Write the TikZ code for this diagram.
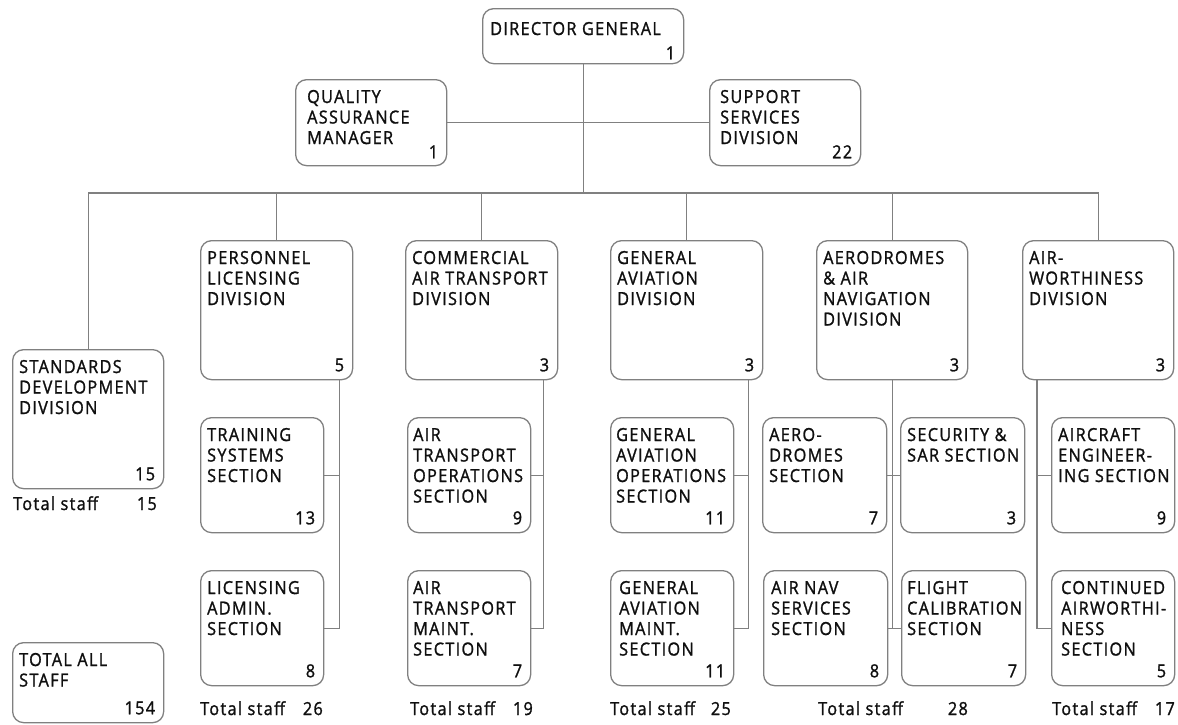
\documentclass[tikz,border=0pt]{standalone}
\usepackage{fontspec}
\setmainfont{Open Sans}[LetterSpace=7.5, FakeStretch=0.9, FakeBold=1.3]
\usetikzlibrary{calc}

\definecolor{edgegray}{RGB}{128,128,128}
\definecolor{inkgray}{RGB}{15,15,15}

\tikzset{
  orgunit/.style={draw=edgegray, line width=1.3pt, rounded corners=11pt, fill=white, inner sep=0pt},
  orgtext/.style={inner sep=0pt, text=inkgray, font=\fontsize{18pt}{20.5pt}\selectfont},
  wire/.style={draw=edgegray, line width=1.3pt},
}

% distance from the top edge to the first baseline, and from the bottom edge to the count
\def\titledrop{24}
\def\numrise{9}

% #1 left text inset, #2 name, #3 x, #4 y (top left), #5 width, #6 height, #7 title, #8 staff count
\newcommand{\orgbox}[8][7]{%
  \node[orgunit, minimum width=#5pt, minimum height=#6pt, anchor=north west] (#2) at (#3,#4) {};
  \node[orgtext, anchor=base west] (#2-t) at ([xshift=#1pt, yshift=-\titledrop pt]#2.north west)
    {\parbox[t]{200pt}{\raggedright #7}};
  \node[orgtext, anchor=base east] (#2-n) at ([xshift=-9pt, yshift=\numrise pt]#2.south east) {#8};
}

\begin{document}
\begin{tikzpicture}[x=1pt, y=-1pt]
\useasboundingbox[fill=white] (0,0) rectangle (1178,724);

% top management
\def\titledrop{27}\def\numrise{5}
\orgbox[8]{dg}{482}{8}{201}{55}{DIRECTOR GENERAL}{1}
\def\titledrop{24}\def\numrise{8}
\orgbox[12]{qam}{295}{79}{151}{86}{QUALITY\\ASSURANCE\\MANAGER}{1}
\orgbox[11]{ssd}{709}{79}{151}{86}{SUPPORT\\SERVICES\\DIVISION}{22}
\def\numrise{9}

% divisions
\orgbox{sdd}{12}{349}{151}{139}{STANDARDS\\DEVELOPMENT\\DIVISION}{15}
\orgbox{pl}{200}{240}{152}{139}{PERSONNEL\\LICENSING\\DIVISION}{5}
\orgbox{cat}{405}{240}{152}{139}{COMMERCIAL\\AIR TRANSPORT\\DIVISION}{3}
\orgbox{ga}{610}{240}{152}{139}{GENERAL\\AVIATION\\DIVISION}{3}
\orgbox{aan}{816}{240}{151}{139}{AERODROMES\\\& AIR\\NAVIGATION\\DIVISION}{3}
\orgbox{aw}{1022}{240}{151}{139}{AIR-\\WORTHINESS\\DIVISION}{3}

% sections
\orgbox{ts}{200}{417}{123}{115}{TRAINING\\SYSTEMS\\SECTION}{13}
\orgbox{la}{200}{570}{123}{115}{LICENSING\\ADMIN.\\SECTION}{8}
\orgbox[6]{ato}{407}{417}{123}{115}{AIR\\TRANSPORT\\OPERATIONS\\SECTION}{9}
\orgbox[6]{atm}{407}{570}{123}{115}{AIR\\TRANSPORT\\MAINT.\\SECTION}{7}
\orgbox[6]{gao}{610}{417}{123}{115}{GENERAL\\AVIATION\\OPERATIONS\\SECTION}{11}
\orgbox[9]{gam}{610}{570}{123}{115}{GENERAL\\AVIATION\\MAINT.\\SECTION}{11}
\orgbox{aero}{762}{417}{124}{115}{AERO-\\DROMES\\SECTION}{7}
\orgbox{sec}{900}{417}{124}{115}{SECURITY \&\\SAR SECTION}{3}
\orgbox[8]{anv}{763}{570}{124}{115}{AIR NAV\\SERVICES\\SECTION}{8}
\orgbox[6]{fc}{901}{570}{124}{115}{FLIGHT\\CALIBRATION\\SECTION}{7}
\orgbox{ae}{1051}{417}{123}{115}{AIRCRAFT\\ENGINEER-\\ING SECTION}{9}
\orgbox[10]{ca}{1051}{570}{123}{115}{CONTINUED\\AIRWORTHI-\\NESS\\SECTION}{5}

\orgbox{tas}{12}{642}{151}{80}{TOTAL ALL\\STAFF}{154}

% staff totals
\node[orgtext, anchor=base west] (sdd-tl) at (13,510) {Total staff};
\node[orgtext, anchor=base east] (sdd-tn) at (157,510) {15};
\node[orgtext, anchor=base west] (pl-tl) at (200,715) {Total staff};
\node[orgtext, anchor=base east] (pl-tn) at (323,715) {26};
\node[orgtext, anchor=base west] (cat-tl) at (410,715) {Total staff};
\node[orgtext, anchor=base east] (cat-tn) at (533,715) {19};
\node[orgtext, anchor=base west] (ga-tl) at (610,715) {Total staff};
\node[orgtext, anchor=base east] (ga-tn) at (731,715) {25};
\node[orgtext, anchor=base west] (aan-tl) at (818,715) {Total staff};
\node[orgtext, anchor=base east] (aan-tn) at (968,715) {28};
\node[orgtext, anchor=base west] (aw-tl) at (1052,715) {Total staff};
\node[orgtext, anchor=base east] (aw-tn) at (1175,715) {17};

% reporting lines
\coordinate (busy) at (0,193);
\draw[wire] (dg.south) -- (dg.south |- busy);
\draw[wire] (qam.east) -- (ssd.west);
\draw[wire] (sdd.north) -- (sdd.north |- busy) -- (aw.north |- busy) -- (aw.north);
\foreach \d in {pl,cat,ga,aan} \draw[wire] (\d.north) -- (\d.north |- busy);

\coordinate (plv) at ([xshift=-14pt]pl.south east);
\draw[wire] (plv) |- (la.east);
\draw[wire] (ts.east) -- (ts.east -| plv);

\coordinate (catv) at ([xshift=-15pt]cat.south east);
\draw[wire] (catv) |- (atm.east);
\draw[wire] (ato.east) -- (ato.east -| catv);

\coordinate (gav) at ([xshift=-15pt]ga.south east);
\draw[wire] (gav) |- (gam.east);
\draw[wire] (gao.east) -- (gao.east -| gav);

\draw[wire] (aan.south) -- (aan.south |- fc.west);
\draw[wire] (aero.east) -- (sec.west);
\draw[wire] (anv.east) -- (fc.west);

\coordinate (awv) at ([xshift=15pt]aw.south west);
\draw[wire] (awv) |- (ca.west);
\draw[wire] (ae.west) -- (ae.west -| awv);
\end{tikzpicture}
\end{document}
